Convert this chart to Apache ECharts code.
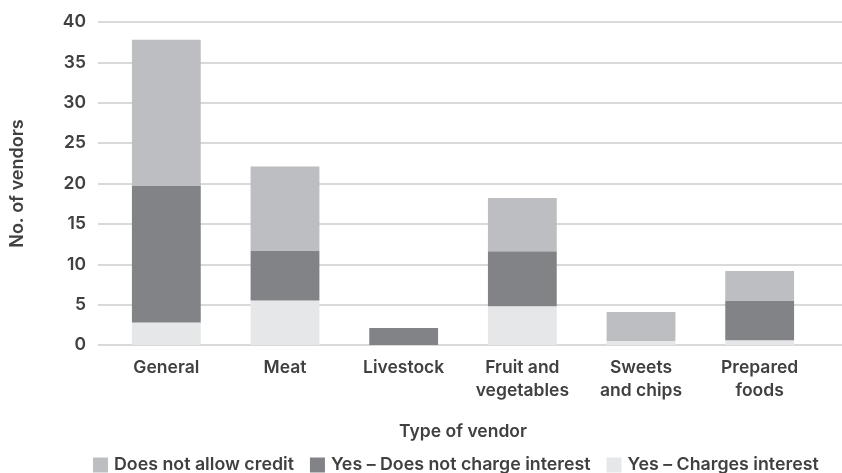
<!DOCTYPE html>
<html>
<head>
<meta charset="utf-8">
<script src="https://cdn.jsdelivr.net/npm/echarts@6/dist/echarts.min.js"></script>
<style>html,body{margin:0;padding:0;background:#fff}#c{width:842px;height:473px}</style>
</head>
<body>
<div id="c"></div>
<script>
var categories = ['General', 'Meat', 'Livestock', 'Fruit and\nvegetables', 'Sweets\nand chips', 'Prepared\nfoods'];
var chargesInterest = [2.8, 5.5, 0, 4.8, 0.5, 0.6];
var noInterest = [16.9, 6.2, 2.1, 6.8, 0, 4.85];
var noCredit = [18.1, 10.4, 0, 6.6, 3.6, 3.7];
var yTicks = [0, 5, 10, 15, 20, 25, 30, 35, 40];

var FONT = 'Inter, "Liberation Sans", Arial, sans-serif';
var TXT = '#404040';
var W = 600;
var FS = 17.5;
var chart = echarts.init(document.getElementById('c'), null, {renderer: 'canvas'});
chart.setOption({
  animation: false,
  textStyle: {fontFamily: FONT},
  grid: [
    {left: 98, right: 0, top: 22, bottom: 128},
    {left: 107, right: 23, top: 22, bottom: 128}
  ],
  xAxis: [
    {gridIndex: 0, type: 'value', show: false, min: 0, max: 1},
    {gridIndex: 1, type: 'category', data: categories,
     axisLine: {show: false}, axisTick: {show: false},
     axisLabel: {interval: 0, fontSize: FS, fontWeight: W, color: TXT, lineHeight: 23, margin: 11, fontFamily: FONT},
     name: 'Type of vendor', nameLocation: 'middle', nameGap: 78,
     nameTextStyle: {fontSize: FS, fontWeight: W, color: TXT, fontFamily: FONT}}
  ],
  yAxis: [
    {gridIndex: 0, type: 'value', min: yTicks[0], max: yTicks[yTicks.length - 1], interval: 5,
     axisLine: {show: false}, axisTick: {show: false},
     axisLabel: {fontSize: FS, fontWeight: W, color: TXT, margin: 12, fontFamily: FONT},
     splitLine: {lineStyle: {color: '#d9d9d9', width: 2}},
     name: 'No. of vendors', nameLocation: 'middle', nameGap: 71, nameRotate: 90,
     nameTextStyle: {fontSize: 18, fontWeight: W, color: TXT, fontFamily: FONT}},
    {gridIndex: 1, type: 'value', min: yTicks[0], max: yTicks[yTicks.length - 1], interval: 5, show: false,
     splitLine: {show: false}}
  ],
  legend: {
    top: 456, left: 93, padding: 0, itemWidth: 15, itemHeight: 15, itemGap: 16, icon: 'rect',
    textStyle: {fontSize: 17.8, fontWeight: W, color: TXT, fontFamily: FONT, padding: [0, 0, 0, 1]},
    data: ['Does not allow credit', 'Yes – Does not charge interest', 'Yes – Charges interest']
  },
  series: [
    {name: 'Yes – Charges interest', type: 'bar', stack: 's', xAxisIndex: 1, yAxisIndex: 1,
     data: chargesInterest, barWidth: '58%', itemStyle: {color: '#e6e7e8'}},
    {name: 'Yes – Does not charge interest', type: 'bar', stack: 's', xAxisIndex: 1, yAxisIndex: 1,
     data: noInterest, barWidth: '58%', itemStyle: {color: '#828387'}},
    {name: 'Does not allow credit', type: 'bar', stack: 's', xAxisIndex: 1, yAxisIndex: 1,
     data: noCredit, barWidth: '58%', itemStyle: {color: '#bdbec1'}}
  ]
});
</script>
</body>
</html>
